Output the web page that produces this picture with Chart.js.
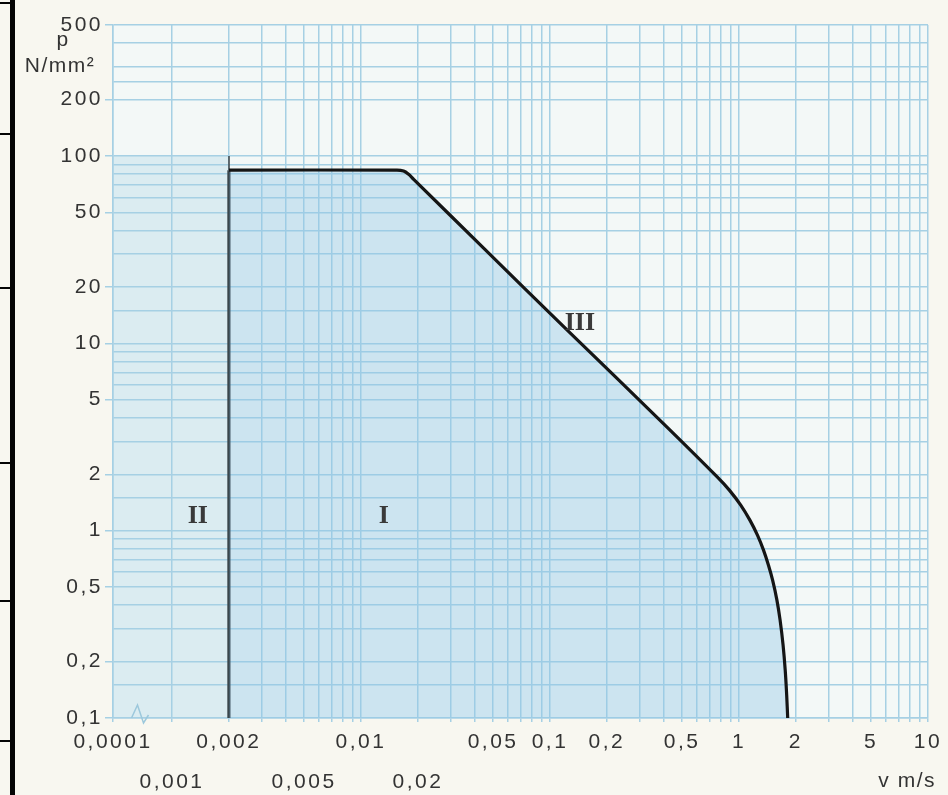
<!DOCTYPE html>
<html>
<head>
<meta charset="utf-8">
<title>p-v Grenzkurve</title>
<script src="https://cdn.jsdelivr.net/npm/chart.js@4.4.1/dist/chart.umd.min.js"></script>
<style>
  html, body { margin: 0; padding: 0; background: #f8f7f0; }
  #wrap { position: relative; width: 948px; height: 795px; }
  .edge { position: absolute; background: #050505; }
</style>
</head>
<body>
<div id="wrap">
  <canvas id="chart"></canvas>
  <div class="edge" style="left:10px;top:0;width:5px;height:795px"></div>
  <div class="edge" style="left:0;top:2px;width:12px;height:2px"></div>
  <div class="edge" style="left:0;top:133px;width:12px;height:2px"></div>
  <div class="edge" style="left:0;top:287px;width:12px;height:2px"></div>
  <div class="edge" style="left:0;top:462px;width:12px;height:2px"></div>
  <div class="edge" style="left:0;top:600px;width:12px;height:2px"></div>
  <div class="edge" style="left:0;top:740px;width:12px;height:2px"></div>
</div>
<script>
// p-v diagram on log-log paper, x axis broken between 0,0001 and 0,001

// tick labels
const xLabelsRow1 = [0.0001, 0.002, 0.01, 0.05, 0.1, 0.2, 0.5, 1, 2, 5, 10];
const xLabelsRow2 = [0.001, 0.005, 0.02];
const yLabels = [0.1, 0.2, 0.5, 1, 2, 5, 10, 20, 50, 100, 200, 500];

// grid lines (mantissas per decade)
const xDecades = [0.001, 0.01, 0.1, 1];
const xMinor = [1, 2, 3, 4, 5, 6, 7, 8, 9];
const yDecades = [0.1, 1, 10];
const yMinor = [1, 1.5, 2, 3, 4, 5, 6, 7, 8, 9];
const yTopDecade = [100, 200, 250, 300, 400, 500];

// limit curve, v in m/s, p in N/mm2
const curveV = [0.002, 0.0155, 0.0168, 0.0178, 0.019, 0.044, 0.123, 0.416, 0.769, 0.889, 1.021, 1.142, 1.252, 1.348, 1.432, 1.506, 1.587, 1.650, 1.711, 1.756, 1.788, 1.81];
const curveP = [84, 84, 83, 80, 75, 32.6, 11.8, 3.57, 1.93, 1.646, 1.369, 1.138, 0.946, 0.787, 0.654, 0.544, 0.426, 0.333, 0.245, 0.18, 0.132, 0.1];

// vertical limit at v = 0,002
const wallV = [0.002, 0.002];
const wallP = [0.1, 84];
const wallTopP = [84, 100];

// region II shading
const regionIIV = [0.0001, 0.002];
const regionIIP = [100, 100];

// region names
const regionNames = ['II', 'I', 'III'];
const regionV = [0.00137, 0.0132, 0.144];
const regionP = [1.2, 1.2, 12.8];

const BREAK_AT = 0.001;     // end of the compressed first decade
const GAP = 59 / 815;       // share of the axis width taken by it

const gridColor = '#a6d0e4';
const textColor = '#333333';

class BrokenLogScale extends Chart.LogarithmicScale {
    getPixelForValue(value) {
        const v = Math.max(value, this.min);
        let f;
        if (v <= BREAK_AT) {
            f = GAP * Math.log10(v / this.min) / Math.log10(BREAK_AT / this.min);
        } else {
            f = GAP + (1 - GAP) * Math.log10(v / BREAK_AT) / Math.log10(this.max / BREAK_AT);
        }
        return this.getPixelForDecimal(f);
    }
    getValueForPixel(pixel) {
        const f = this.getDecimalForPixel(pixel);
        if (f <= GAP) return this.min * Math.pow(BREAK_AT / this.min, f / GAP);
        return BREAK_AT * Math.pow(this.max / BREAK_AT, (f - GAP) / (1 - GAP));
    }
}
BrokenLogScale.id = 'brokenLog';
BrokenLogScale.defaults = Chart.LogarithmicScale.defaults;
Chart.register(BrokenLogScale);

const clean = v => Number(v.toPrecision(6));
const xGrid = [0.0001];
xDecades.forEach(d => xMinor.forEach(m => xGrid.push(clean(m * d))));
xGrid.push(10);
const yGrid = [];
yDecades.forEach(d => yMinor.forEach(m => yGrid.push(clean(m * d))));
yTopDecade.forEach(v => yGrid.push(v));

const has = (list, v) => list.some(l => Math.abs(l - v) / l < 1e-6);
const fmt = v => String(v).replace('.', ',');
const points = (xs, ys) => xs.map((x, i) => ({ x: x, y: ys[i] }));

const paperPlugin = {
    id: 'paper',
    beforeDraw(chart) {
        const { ctx, chartArea: a } = chart;
        ctx.save();
        ctx.fillStyle = '#f3f8f7';
        ctx.fillRect(a.left, a.top, a.right - a.left, a.bottom - a.top);
        ctx.restore();
        ctx.letterSpacing = '2.5px';
    },
    afterDraw(chart) {
        const { ctx, chartArea: a, scales: { x, y } } = chart;
        ctx.save();
        ctx.letterSpacing = '0px';

        // axis break mark
        const bx = x.getPixelForValue(Math.sqrt(0.0001 * BREAK_AT)) - 2;
        ctx.strokeStyle = '#9cc8dc';
        ctx.lineWidth = 1.5;
        ctx.beginPath();
        ctx.moveTo(bx - 9, a.bottom);
        ctx.lineTo(bx - 3, a.bottom - 13);
        ctx.lineTo(bx + 3, a.bottom + 5);
        ctx.lineTo(bx + 8, a.bottom - 3);
        ctx.stroke();

        // region names
        ctx.font = 'bold 26px "Liberation Serif"';
        ctx.fillStyle = '#3a3a3a';
        ctx.textAlign = 'center';
        ctx.textBaseline = 'middle';
        regionNames.forEach((t, i) => {
            ctx.fillText(t, x.getPixelForValue(regionV[i]), y.getPixelForValue(regionP[i]));
        });

        // axis titles
        ctx.letterSpacing = '1.5px';
        ctx.font = '21px "Liberation Sans"';
        ctx.fillStyle = textColor;
        ctx.fillText('p', 63, a.top + 15);
        ctx.fillText('N/mm\u00b2', 60, a.top + 41);
        ctx.textAlign = 'right';
        ctx.fillText('v m/s', a.right + 8, a.bottom + 63);
        ctx.restore();
    }
};

new Chart(document.getElementById('chart'), {
    type: 'scatter',
    data: {
        datasets: [
            {
                data: points(regionIIV, regionIIP),
                showLine: true, fill: 'start',
                backgroundColor: 'rgba(165,208,230,0.3)',
                borderColor: 'transparent', borderWidth: 1, pointRadius: 0
            },
            {
                data: points(curveV, curveP),
                showLine: true, fill: 'start',
                backgroundColor: 'rgba(145,198,230,0.4)',
                borderColor: '#151515', borderWidth: 3.2, pointRadius: 0,
                tension: 0.4
            },
            {
                data: points(wallV, wallP),
                showLine: true,
                borderColor: '#151515', borderWidth: 3.2, pointRadius: 0
            },
            {
                data: points(wallV, wallTopP),
                showLine: true,
                borderColor: '#2a2a2a', borderWidth: 1.5, pointRadius: 0
            }
        ]
    },
    options: {
        responsive: true,
        maintainAspectRatio: false,
        animation: false,
        events: [],
        layout: { padding: { left: 0, top: 25, right: 20, bottom: 0 } },
        plugins: { legend: { display: false }, tooltip: { enabled: false } },
        scales: {
            x: {
                type: 'brokenLog',
                min: 0.0001, max: 10,
                afterBuildTicks: s => { s.ticks = xGrid.map(v => ({ value: v })); },
                afterFit: s => { s.height = 77; },
                grid: { color: gridColor, lineWidth: 1.5, tickLength: 4, tickColor: gridColor },
                border: { color: gridColor, width: 1.5 },
                ticks: {
                    autoSkip: false, maxRotation: 0, minRotation: 0, padding: 0,
                    color: textColor,
                    font: { family: 'Liberation Sans', size: 21, lineHeight: 1.9 },
                    callback: v => {
                        if (has(xLabelsRow1, v)) return fmt(v);
                        if (has(xLabelsRow2, v)) return ['', fmt(v)];
                        return '';
                    }
                }
            },
            y: {
                type: 'logarithmic',
                min: 0.1, max: 500,
                afterBuildTicks: s => { s.ticks = yGrid.map(v => ({ value: v })); },
                afterFit: s => { s.width = 113; },
                grid: {
                    color: gridColor, lineWidth: 1.5, tickLength: 8,
                    tickColor: c => (c.tick && has(yLabels, c.tick.value)) ? gridColor : 'transparent'
                },
                border: { color: gridColor, width: 1.5 },
                ticks: {
                    autoSkip: false, padding: 2,
                    color: textColor,
                    font: { family: 'Liberation Sans', size: 21 },
                    callback: v => has(yLabels, v) ? fmt(v) : ''
                }
            }
        }
    },
    plugins: [paperPlugin]
});
</script>
</body>
</html>
